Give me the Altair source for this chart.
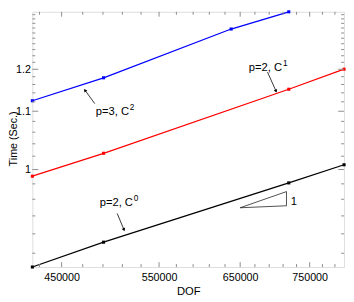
import altair as alt
import pandas as pd

# ---- data ----
dof_p2c0 = [423700, 490600, 718400, 805000]
time_p2c0 = [0.8867, 0.9112, 0.9813, 1.0070]
dof_p2c1 = [423700, 490600, 718400, 805000]
time_p2c1 = [0.9905, 1.0246, 1.1485, 1.2002]
dof_p3c2 = [423700, 490600, 638000, 718400]
time_p3c2 = [1.1222, 1.1770, 1.3359, 1.4142]

series_names = ["p=2, C0", "p=2, C1", "p=3, C2"]
series_colors = ["#000000", "#ff0000", "#0000ff"]

x_major = [450000, 550000, 650000, 750000]
x_minor = [430000, 470000, 490000, 510000, 530000, 570000, 590000, 610000,
           630000, 670000, 690000, 710000, 730000, 770000, 790000]
y_major = [1.0, 1.1, 1.2]
y_minor = [0.90, 0.92, 0.94, 0.96, 0.98, 1.02, 1.04, 1.06, 1.08, 1.12, 1.14,
           1.16, 1.18, 1.22, 1.24, 1.26, 1.28, 1.30, 1.32, 1.34, 1.36, 1.38, 1.40]

# annotations
label_text = ["p=3, C", "p=2, C", "p=2, C"]
label_sup = ["2", "1", "0"]
label_dof = [482800, 661700, 486700]
label_time = [1.0981, 1.2029, 0.9554]
arrow_tail_dof = [481800, 687600, 504600]
arrow_tail_time = [1.1160, 1.1923, 0.9428]
arrow_head_dof = [472200, 699800, 511700]
arrow_head_time = [1.1462, 1.1440, 0.9244]
arrow_angle = [324, 156, 158]
tri_dof = [650000, 715000, 715000, 650000]
tri_time = [0.9496, 0.9520, 0.9698, 0.9496]
slope_dof = [721300]
slope_time = [0.9560]
slope_text = ["1"]

W, H = 320, 262
FONT = "Liberation Sans"
GRAY = "#8c8c8c"

xs = alt.Scale(type="log", domain=[423700, 805000], nice=False)
ys = alt.Scale(type="pow", exponent=-2.6, domain=[0.8867, 1.4142], nice=False, zero=False)

rows = []
for name, xs_, ts_ in zip(series_names, [dof_p2c0, dof_p2c1, dof_p3c2],
                          [time_p2c0, time_p2c1, time_p3c2]):
    for i, (a, b) in enumerate(zip(xs_, ts_)):
        rows.append({"series": name, "dof": a, "time": b, "i": i})
df = pd.DataFrame(rows)

color = alt.Color("series:N", scale=alt.Scale(domain=series_names, range=series_colors), legend=None)

x_axis = alt.Axis(values=x_major, format="d", ticks=False, domain=False, grid=False,
                  labelFont=FONT, labelFontSize=11, labelColor="black", labelPadding=5,
                  title="DOF", titleFont=FONT, titleFontSize=11.5, titleFontWeight="normal",
                  titleColor="black", titleX=W / 2, titleY=25, titleBaseline="middle")
y_axis = alt.Axis(values=y_major, format="~g", ticks=False, domain=False, grid=False,
                  labelFont=FONT, labelFontSize=11, labelColor="black", labelPadding=2,
                  title="Time (Sec.)", titleFont=FONT, titleFontSize=11, titleFontWeight="normal",
                  titleColor="black", titleX=-19.5, titleY=130, titleBaseline="middle")

lines = alt.Chart(df).mark_line(strokeWidth=1.3).encode(
    x=alt.X("dof:Q", scale=xs, axis=x_axis),
    y=alt.Y("time:Q", scale=ys, axis=y_axis),
    color=color,
    order="i:Q",
)
points = alt.Chart(df).mark_square(size=10, opacity=1).encode(
    x=alt.X("dof:Q", scale=xs), y=alt.Y("time:Q", scale=ys), color=color
)

# inward ticks
def xticks(vals, length):
    d = pd.DataFrame({"v": vals})
    bottom = alt.Chart(d).mark_rule(color=GRAY, strokeWidth=1).encode(
        x=alt.X("v:Q", scale=xs), y=alt.value(H), y2=alt.value(H - length))
    top = alt.Chart(d).mark_rule(color=GRAY, strokeWidth=1).encode(
        x=alt.X("v:Q", scale=xs), y=alt.value(0), y2=alt.value(length))
    return [bottom, top]

def yticks(vals, length):
    d = pd.DataFrame({"v": vals})
    left = alt.Chart(d).mark_rule(color=GRAY, strokeWidth=1).encode(
        y=alt.Y("v:Q", scale=ys), x=alt.value(0), x2=alt.value(length))
    right = alt.Chart(d).mark_rule(color=GRAY, strokeWidth=1).encode(
        y=alt.Y("v:Q", scale=ys), x=alt.value(W), x2=alt.value(W - length))
    return [left, right]

tick_layers = xticks(x_major, 5) + xticks(x_minor, 3) + yticks(y_major, 6) + yticks(y_minor, 3)

# annotations
arr_rows = []
for k in range(3):
    arr_rows.append({"k": k, "dof": arrow_tail_dof[k], "time": arrow_tail_time[k], "o": 0})
    arr_rows.append({"k": k, "dof": arrow_head_dof[k], "time": arrow_head_time[k], "o": 1})
arr_df = pd.DataFrame(arr_rows)
arrows = alt.Chart(arr_df).mark_line(color="black", strokeWidth=0.8).encode(
    x=alt.X("dof:Q", scale=xs), y=alt.Y("time:Q", scale=ys), detail="k:N", order="o:Q")
head_df = pd.DataFrame({"dof": arrow_head_dof, "time": arrow_head_time, "ang": arrow_angle})
heads = alt.Chart(head_df).mark_point(shape="triangle-up", filled=True, size=14, color="black",
                                      opacity=1).encode(
    x=alt.X("dof:Q", scale=xs), y=alt.Y("time:Q", scale=ys), angle=alt.Angle("ang:Q", scale=None))

lab_df = pd.DataFrame({"dof": label_dof, "time": label_time, "t": label_text, "s": label_sup})
labels = alt.Chart(lab_df).mark_text(font=FONT, fontSize=11.5, align="left", baseline="middle",
                                     color="black").encode(
    x=alt.X("dof:Q", scale=xs), y=alt.Y("time:Q", scale=ys), text="t:N")
sups = alt.Chart(lab_df).mark_text(font=FONT, fontSize=8.5, align="left", baseline="middle",
                                   color="black", dx=35, dy=-5).encode(
    x=alt.X("dof:Q", scale=xs), y=alt.Y("time:Q", scale=ys), text="s:N")

tri_df = pd.DataFrame({"dof": tri_dof, "time": tri_time, "o": [0, 1, 2, 3]})
tri = alt.Chart(tri_df).mark_line(color="black", strokeWidth=0.7).encode(
    x=alt.X("dof:Q", scale=xs), y=alt.Y("time:Q", scale=ys), order="o:Q")
slope_df = pd.DataFrame({"dof": slope_dof, "time": slope_time, "t": slope_text})
slope_lab = alt.Chart(slope_df).mark_text(font=FONT, fontSize=11.5, align="left", baseline="middle",
                                          color="black").encode(
    x=alt.X("dof:Q", scale=xs), y=alt.Y("time:Q", scale=ys), text="t:N")

chart = alt.layer(lines, points, *tick_layers, arrows, heads, labels, sups, tri, slope_lab).properties(
    width=W, height=H,
    autosize=alt.AutoSizeParams(type="none"),
    padding={"left": 25, "top": 0, "right": 2, "bottom": 32},
).configure_view(stroke=GRAY, strokeWidth=1).configure(background="white")

chart.save("out.html", embed_options={"renderer": "svg", "actions": False})
